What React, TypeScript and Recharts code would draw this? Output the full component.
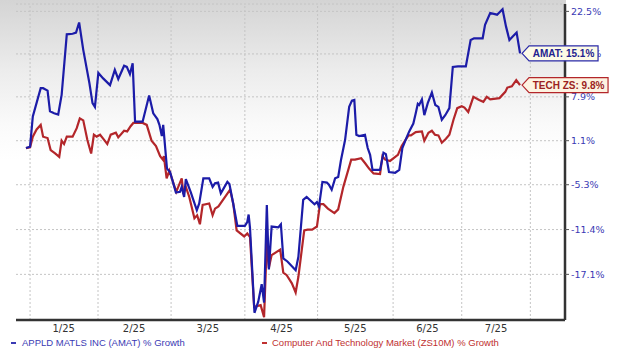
import { LineChart, Line, XAxis, YAxis, CartesianGrid, ReferenceLine } from "recharts";

// x = trading sessions since the start of the comparison window
const amatDays = [
  0, 1.2, 2.0, 4.3, 5.0, 6.3, 7.0, 8.2, 9.4, 10.4, 11.9, 13.6, 14.6, 15.5, 16.7, 18.5, 19.4, 20.1, 21.1, 22.5,
  24.5, 25.9, 26.9, 28.6, 29.4, 30.3, 31.1, 31.8, 34.0, 35.9, 37.1, 38.3, 38.9, 39.6, 40.0, 41.1, 42.0, 43.7, 44.9, 45.4,
  46.1, 46.6, 48.0, 49.0, 49.8, 50.5, 51.7, 53.4, 54.4, 55.1, 56.0, 56.8, 58.7, 59.3, 60.4, 61.6, 63.8, 64.5, 64.9, 65.3,
  66.6, 67.7, 68.7, 69.4, 70.2, 70.8, 71.6, 73.6, 74.3, 75.0, 76.2, 78.6, 79.4, 80.8, 81.8, 84.1, 84.8, 85.4, 86.4, 87.7,
  88.3, 89.1, 90.1, 91.0, 91.8, 93.0, 94.2, 95.0, 95.7, 96.3, 97.1, 98.8, 99.6, 100.3, 101.0, 103.2, 104.2, 104.9, 105.8, 107.6,
  108.8, 109.7, 110.8, 111.7, 112.9, 113.6, 114.2, 114.6, 115.4, 116.1, 117.1, 118.3, 119.3, 120.2, 121.2, 122.2, 123.4, 124.4, 125.9, 128.2,
  129.6, 130.6, 133.1, 133.8, 135.3, 137.3, 138.9, 139.9, 140.9, 142.0, 143.0, 144.0,
];
const amatPct = [
  0, 0.2, 4.8, 9.3, 9.3, 8.9, 5.6, 5.3, 5.1, 8.2, 18.4, 18.5, 18.7, 20.5, 15.7, 10.1, 6.9, 6.3, 11.8, 10.9,
  9.8, 12.3, 10.8, 13.0, 12.8, 11.6, 13.4, 4.0, 4.0, 8.1, 5.3, 4.4, 3.5, 1.8, 3.5, -3.0, -3.5, -6.4, -6.3, -5.6,
  -7.0, -4.5, -6.3, -7.7, -8.8, -7.9, -4.4, -4.4, -5.6, -5.1, -5.0, -6.5, -4.9, -5.2, -7.9, -10.9, -10.9, -10.4, -9.4, -11.2,
  -21.7, -20.4, -18.3, -20.5, -8.1, -16.5, -11.0, -11.1, -10.7, -15.1, -15.5, -16.6, -14.9, -7.4, -7.0, -8.0, -7.7, -8.3, -4.9, -5.0,
  -5.3, -6.0, -4.4, -4.2, -1.8, 1.2, 6.3, 7.3, 7.4, 2.0, 1.8, 2.0, 0.0, -1.0, -3.2, -3.2, -0.7, -0.9, -3.5, -3.6,
  -3.2, 0.0, 1.4, 2.5, 3.7, 5.3, 6.8, 6.6, 7.5, 5.0, 6.9, 8.6, 6.6, 6.3, 4.3, 5.0, 6.1, 12.8, 12.9, 12.9,
  17.4, 17.7, 17.7, 20.1, 22.2, 21.9, 22.9, 19.8, 17.4, 18.1, 18.7, 15.1,
];

const techDays = [
  0, 1.2, 2.0, 3.1, 4.3, 5.0, 6.3, 7.2, 8.5, 9.7, 10.4, 11.1, 11.9, 13.6, 14.8, 15.7, 16.7, 17.9, 19.0, 19.8,
  20.6, 21.6, 22.5, 23.7, 24.7, 26.2, 26.9, 28.6, 29.5, 30.5, 31.3, 34.0, 35.2, 36.6, 37.9, 39.1, 39.9, 40.2, 41.0, 41.8,
  43.8, 45.4, 45.9, 46.6, 47.6, 49.1, 49.9, 50.7, 51.5, 53.4, 54.4, 55.1, 56.1, 59.5, 60.4, 61.4, 63.6, 64.5, 65.3, 66.5,
  68.4, 69.4, 70.2, 70.8, 71.6, 74.1, 75.0, 76.0, 77.5, 78.6, 79.4, 81.1, 82.1, 83.4, 84.8, 85.7, 86.7, 88.0, 89.9, 91.0,
  92.5, 94.8, 95.9, 97.7, 98.8, 100.0, 101.3, 103.2, 103.9, 104.7, 106.1, 108.4, 109.5, 110.5, 111.5, 112.2, 113.6, 115.4, 116.1, 117.3,
  118.3, 119.2, 120.2, 121.2, 122.4, 123.4, 124.6, 125.7, 127.0, 127.8, 128.9, 130.4, 132.1, 133.3, 134.3, 135.3, 138.0, 139.7, 140.3, 141.6,
  142.9, 144.0,
];
const techPct = [
  0, 0.1, 1.7, 2.8, 3.5, 1.7, 1.5, -0.3, -0.8, -1.3, 1.1, 0.6, 1.7, 1.7, 3.0, 4.5, 4.2, 1.2, -0.8, 2.0,
  1.7, 2.0, 1.4, 0.6, 2.0, 2.3, 1.6, 2.6, 2.5, 3.3, 3.8, 3.8, 3.5, 1.1, 0.3, -1.2, -1.7, -1.2, -4.4, -3.3,
  -6.3, -4.4, -6.6, -5.6, -7.0, -9.9, -9.5, -10.7, -8.1, -7.9, -9.5, -8.6, -8.3, -6.0, -7.9, -11.5, -12.3, -11.9, -12.4, -21.0,
  -20.8, -22.2, -13.0, -16.3, -14.7, -14.0, -16.9, -17.2, -18.2, -19.3, -17.4, -11.5, -11.4, -11.4, -11.0, -8.0, -8.0, -8.6, -9.2, -8.7,
  -5.6, -1.7, -1.7, -1.5, -2.2, -3.0, -3.7, -3.8, -1.2, -1.7, -1.9, -1.0, 0.3, 1.1, 1.9, 1.9, 2.4, 2.5, 1.1, 2.3,
  2.6, 2.0, 1.9, 0.8, 1.4, 2.0, 4.3, 6.1, 6.4, 6.2, 5.5, 7.9, 7.4, 7.1, 7.9, 7.5, 7.7, 8.7, 9.4, 9.6,
  10.6, 9.8,
];

const monthLabels = ["1/25", "2/25", "3/25", "4/25", "5/25", "6/25", "7/25"];
const monthMid = [11, 31.5, 53, 74.5, 96, 117, 137];
const monthStart = [1.2, 21, 42.3, 63.8, 85, 107, 127, 147];
const yTickPct = [22.5, 15.0, 7.9, 1.1, -5.3, -11.4, -17.1];

const growth = (p: number) => Math.log(1 + p / 100);
const amatData = amatDays.map((d, i) => ({ d, v: growth(amatPct[i]) }));
const techData = techDays.map((d, i) => ({ d, v: growth(techPct[i]) }));
const yTicks = yTickPct.map(growth);

function EndTag(props: any) {
  const { x, y, index, last, text, stroke, fill, color, w } = props;
  if (index !== last || x == null || y == null) return null;
  const bx = x + 9;
  const h = 7.5;
  return (
    <g>
      <path
        d={`M${x + 2},${y} L${bx},${y - h} L${bx + w},${y - h} L${bx + w},${y + h} L${bx},${y + h} Z`}
        fill={fill}
        stroke={stroke}
        strokeWidth={1.2}
      />
      <text
        x={bx + w / 2}
        y={y + 0.5}
        textAnchor="middle"
        dominantBaseline="central"
        fontSize={10}
        fontWeight="bold"
        fontFamily="Liberation Sans, Arial, sans-serif"
        fill={color}
      >
        {text}
      </text>
    </g>
  );
}

export default function App() {
  return (
    <div style={{ position: "fixed", left: 0, top: 0, width: 620, height: 354, background: "#fff" }}>
      <div
        style={{
          position: "absolute",
          left: 0,
          top: 0,
          width: 566,
          height: 160,
          background: "linear-gradient(#d4d4d4 0px, #ececec 70px, #fafafa 125px, #ffffff 160px)",
        }}
      />
      <div style={{ position: "absolute", left: 0, top: 0 }}>
        <LineChart width={620} height={354} margin={{ top: 4, right: 0, bottom: 14, left: 16 }}>
          <CartesianGrid vertical={false} stroke="#c4c4c4" strokeDasharray="2 2" />
          {monthStart.map((m) => (
            <ReferenceLine key={m} x={m} stroke="#c4c4c4" strokeDasharray="2 2" />
          ))}
          <XAxis
            dataKey="d"
            type="number"
            domain={[-2.9, 157.1]}
            ticks={monthMid}
            tickFormatter={(v: number) => monthLabels[monthMid.indexOf(v)] ?? ""}
            tickLine={false}
            tickSize={3}
            height={20}
            axisLine={{ stroke: "#333", strokeWidth: 2.5 }}
            tick={{ fontSize: 10, fill: "#333", fontFamily: "DejaVu Sans, Verdana, sans-serif" }}
            allowDataOverflow
          />
          <YAxis
            orientation="right"
            type="number"
            domain={[-0.2553, 0.2139]}
            ticks={yTicks}
            tickFormatter={(v: number) => {
              const i = yTicks.findIndex((t) => Math.abs(t - v) < 1e-6);
              return i >= 0 ? `${yTickPct[i].toFixed(1)}%` : "";
            }}
            width={55}
            tickSize={4}
            tickLine={{ stroke: "#555" }}
            axisLine={{ stroke: "#333", strokeWidth: 2.5 }}
            tick={{ fontSize: 9.5, fill: "#3a3ab4", fontFamily: "DejaVu Sans, Verdana, sans-serif" }}
            allowDataOverflow
          />
          <Line
            data={techData}
            dataKey="v"
            stroke="#b3262a"
            strokeWidth={2.2}
            dot={false}
            isAnimationActive={false}
            label={(p: any) => (
              <EndTag {...p} last={techData.length - 1} text="TECH ZS: 9.8%" stroke="#b3262a" fill="#fdf3e1" color="#9c1f22" w={79} />
            )}
          />
          <Line
            data={amatData}
            dataKey="v"
            stroke="#1c1ca8"
            strokeWidth={2.2}
            dot={false}
            isAnimationActive={false}
            label={(p: any) => (
              <EndTag {...p} last={amatData.length - 1} text="AMAT: 15.1%" stroke="#2a2aa8" fill="#fdfbe6" color="#22228f" w={69} />
            )}
          />
        </LineChart>
      </div>
      <div
        style={{
          position: "absolute",
          left: 0,
          top: 336,
          width: 620,
          fontFamily: "Liberation Sans, Arial, sans-serif",
          fontSize: 9.5,
          lineHeight: "14px",
          whiteSpace: "nowrap",
        }}
      >
        <span style={{ position: "absolute", left: 11, top: 6, width: 5, height: 2, background: "#3a3ab4" }} />
        <span style={{ position: "absolute", left: 22, top: 0, color: "#3a3ab4" }}>APPLD MATLS INC (AMAT) % Growth</span>
        <span style={{ position: "absolute", left: 262, top: 6, width: 5, height: 2, background: "#c03030" }} />
        <span style={{ position: "absolute", left: 272, top: 0, color: "#c03030" }}>
          Computer And Technology Market (ZS10M) % Growth
        </span>
      </div>
    </div>
  );
}
